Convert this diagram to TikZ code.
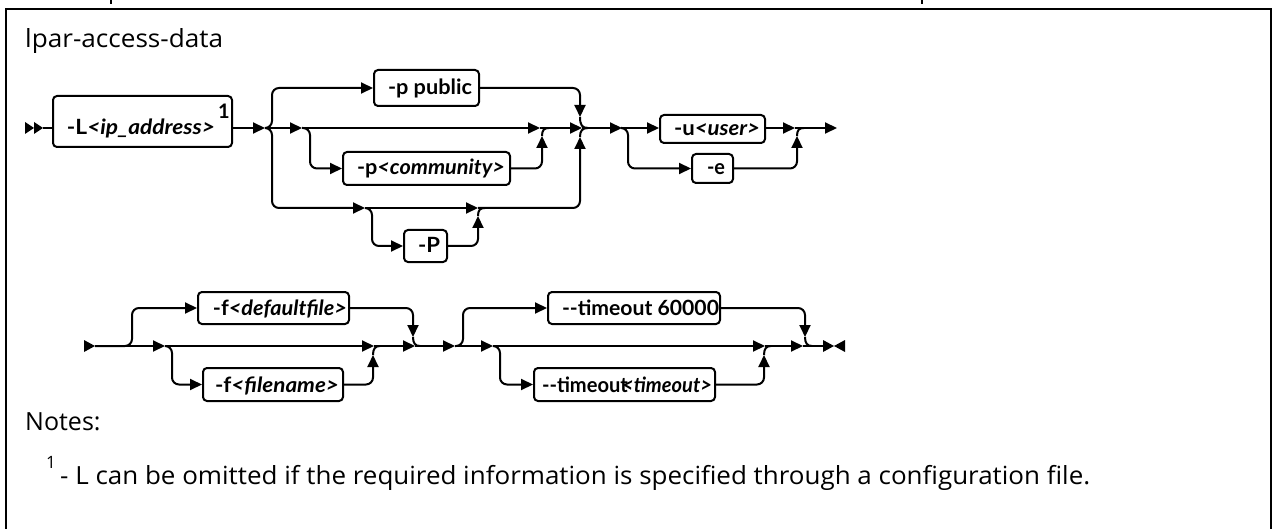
\documentclass[tikz,border=0pt]{standalone}
\usepackage{fontspec}
\setmainfont{Open Sans}
\newfontfamily\boxfont{Lato}
\usetikzlibrary{arrows.meta}
% set a label to a given width, keeping its height
\newcommand{\fitw}[2]{\resizebox{#1}{\height}{#2}}

\begin{document}
\begin{tikzpicture}[x=1pt,y=-1pt,
  opt/.style={draw, rounded corners=4pt, line width=2pt, inner sep=0pt},
  optlabel/.style={anchor=base, inner sep=0pt,
    font=\boxfont\bfseries\fontsize{21}{21}\selectfont},
  conn/.style={line width=2pt, rounded corners=7pt},
  tip/.style={-{Triangle[length=12pt,width=11pt]}},
  lbl/.style={anchor=base west, inner sep=0pt}]

\useasboundingbox (0,0) rectangle (1273,529);
\clip (0,0) rectangle (1273,529);

% outer frame (open at the bottom)
\draw[line width=2.5pt] (6,540) -- (6,9) -- (1271,9) -- (1271,540);
% clipped glyph stems above the frame
\draw[line width=2pt] (111,0) -- (111,4);
\draw[line width=2pt] (922,0) -- (922,4);

\node[lbl, font=\fontsize{25}{25}\selectfont] (title) at (25,48) {\fitw{198pt}{lpar-access-data}};

% ---------------- first line ----------------
\coordinate (r1) at (0,128);
\node[opt, minimum width=179pt, minimum height=51pt] (L) at (142.5,121.5) {};
\node[optlabel] (Ltext) at (141,135) {\fitw{148pt}{-L\textit{<ip\_address>}}};
\node[inner sep=0pt, font=\boxfont\bfseries\fontsize{20}{20}\selectfont] (fn1) at (224,111.5) {1};
\node[opt, minimum width=105pt, minimum height=36pt] (pp) at (426.5,88) {};
\node[optlabel] (pptext) at (430,95) {\fitw{84pt}{-p public}};
\node[opt, minimum width=167pt, minimum height=33pt] (pc) at (426.5,168.5) {};
\node[optlabel] (pctext) at (431,175) {\fitw{148pt}{-p\textit{<community>}}};
\node[opt, minimum width=43pt, minimum height=32pt] (P) at (425.5,246) {};
\node[optlabel] (Ptext) at (429,253) {\fitw{22pt}{-P}};
\node[opt, minimum width=105pt, minimum height=28pt] (u) at (712.5,129) {};
\node[optlabel] (utext) at (717,136) {\fitw{86pt}{-u\textit{<user>}}};
\node[opt, minimum width=41pt, minimum height=29pt] (e) at (712.5,168.5) {};
\node[optlabel] (etext) at (716,175) {\fitw{18pt}{-e}};

\coordinate (st1) at (43,128);
\coordinate (a1) at (265,128);
\coordinate (a2) at (302,128);
\coordinate (m1) at (540,128);
\coordinate (m2) at (582,128);
\coordinate (a3) at (365,208);
\coordinate (m3) at (478,208);
\coordinate (a4) at (622,128);
\coordinate (m4) at (795,128);
\coordinate (end1) at (837,128);

% double-arrow start mark
\fill (25,122) -- (34,128) -- (25,134) -- cycle;
\fill (34,122) -- (43,128) -- (34,134) -- cycle;
\draw[conn] (st1) -- (L.west |- r1);

\draw[conn,tip] (L.east |- r1) -- (a1);
\draw[conn,tip] (a1) -| (272,88) -- (pp.west);
\draw[conn,tip] (a1) -| (272,208) -- (a3);
\draw[conn,tip] (a1) -- (a2);
\draw[conn,tip] (a2) -| (310,168.5) -- (pc.west);
\draw[conn,tip] (a2) -- (m1);
\draw[conn,tip] (pc.east) -| (542,136);
\draw[conn] (542,136) .. controls (542,130) and (544,128) .. (549,128);
\draw[conn,tip] (m1) -- (m2);
\draw[conn,tip] (pp.east) -| (580,117);
\draw[conn] (580,117) .. controls (580,125) and (582,128) .. (588,128);
\draw[conn,tip] (a3) -| (372,246) -- (P.west);
\draw[conn,tip] (a3) -- (m3);
\draw[conn,tip] (P.east) -| (478,216);
\draw[conn] (478,216) .. controls (478,210) and (480,208) .. (485,208);
\draw[conn,tip] (m3) -| (580,137);
\draw[conn] (580,137) .. controls (580,131) and (582,128) .. (588,128);
\draw[conn,tip] (m2) -- (a4);
\draw[conn,tip] (a4) -| (628,168.5) -- (e.west);
\draw[conn,tip] (a4) -- (u.west |- r1);
\draw[conn,tip] (u.east |- r1) -- (m4);
\draw[conn,tip] (e.east) -| (797,136);
\draw[conn] (797,136) .. controls (797,130) and (799,128) .. (804,128);
\draw[conn,tip] (m4) -- (end1);

% ---------------- second line ----------------
\node[opt, minimum width=151pt, minimum height=32pt] (fd) at (273.5,308) {};
\node[optlabel] (fdtext) at (280,315) {\fitw{134pt}{-f\textit{<defaultfile>}}};
\node[opt, minimum width=140pt, minimum height=33pt] (ff) at (273,384.5) {};
\node[optlabel] (fftext) at (277,392) {\fitw{124pt}{-f\textit{<filename>}}};
\node[opt, minimum width=172pt, minimum height=32pt] (t6) at (634,308) {};
\node[optlabel] (t6text) at (640.5,315) {\fitw{157pt}{-{}-timeout 60000}};
\node[opt, minimum width=181pt, minimum height=33pt] (tt) at (624.5,384.5) {};
\node[optlabel] (tttext) at (627,392) {\fitw{170pt}{-{}-timeout\hspace{-6pt}\textit{<timeout>}}};

\coordinate (st2) at (95,346);
\coordinate (b1) at (165,346);
\coordinate (m5) at (374,346);
\coordinate (m6) at (415,346);
\coordinate (b2) at (455,346);
\coordinate (b3) at (493,346);
\coordinate (m7) at (765,346);
\coordinate (m8) at (803,346);
\coordinate (end2) at (823,346);

\fill (84,340) -- (95,346) -- (84,352) -- cycle;
\draw[conn,tip] (st2) -| (132,308) -- (fd.west);
\draw[conn,tip] (st2) -- (b1);
\draw[conn,tip] (b1) -| (172,384.5) -- (ff.west);
\draw[conn,tip] (b1) -- (m5);
\draw[conn,tip] (ff.east) -| (373,355);
\draw[conn] (373,355) .. controls (373,349) and (375,346) .. (380,346);
\draw[conn,tip] (m5) -- (m6);
\draw[conn,tip] (fd.east) -| (413,337);
\draw[conn] (413,337) .. controls (413,343) and (415,346) .. (420,346);
\draw[conn,tip] (m6) -- (b2);
\draw[conn,tip] (b2) -| (463,308) -- (t6.west);
\draw[conn,tip] (b2) -- (b3);
\draw[conn,tip] (b3) -| (500,384.5) -- (tt.west);
\draw[conn,tip] (b3) -- (m7);
\draw[conn,tip] (tt.east) -| (764,355);
\draw[conn] (764,355) .. controls (764,349) and (766,346) .. (771,346);
\draw[conn,tip] (m7) -- (m8);
\draw[conn,tip] (t6.east) -| (805,337);
\draw[conn] (805,337) .. controls (805,343) and (807,346) .. (812,346);
\draw[conn] (m8) -- (end2);
% end mark
\fill (823,340) -- (834,346) -- (823,352) -- cycle;
\fill (845,340) -- (834,346) -- (845,352) -- cycle;

% ---------------- notes ----------------
\node[lbl, font=\fontsize{25}{25}\selectfont] (notes) at (25,430) {Notes:};
\node[lbl, font=\fontsize{17}{17}\selectfont] (fnmark) at (46,468) {1};
\node[lbl, font=\fontsize{25}{25}\selectfont] (note1) at (60,484) {\fitw{1030pt}{- L can be omitted if the required information is specified through a configuration file.}};

\end{tikzpicture}
\end{document}
